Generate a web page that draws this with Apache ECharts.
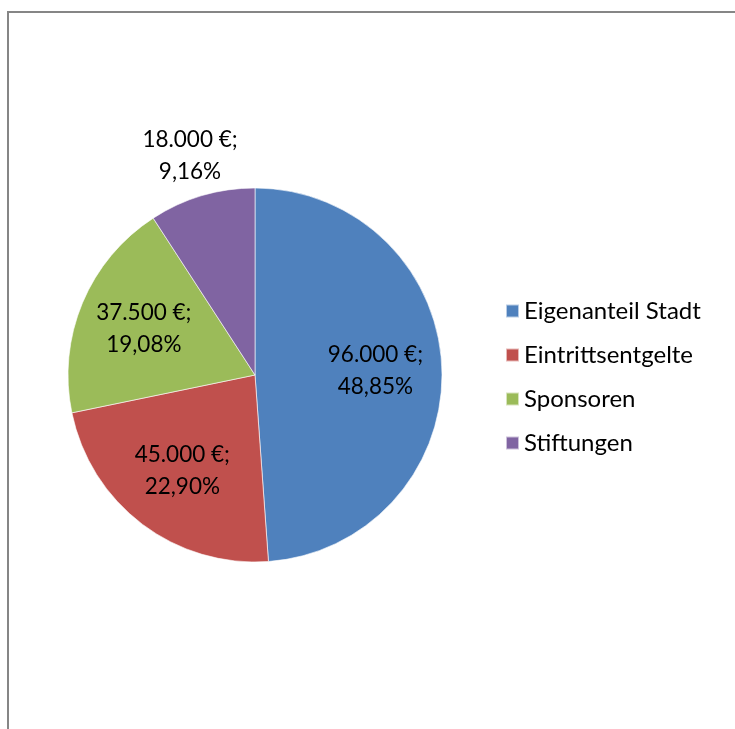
<!DOCTYPE html>
<html>
<head>
<meta charset="utf-8">
<script src="https://cdn.jsdelivr.net/npm/echarts@6/dist/echarts.min.js"></script>
<style>
html,body{margin:0;padding:0;background:#fff;}
#chart{width:735px;height:729px;}
</style>
</head>
<body>
<div id="chart"></div>
<script>
const categories = ['Eigenanteil Stadt', 'Eintrittsentgelte', 'Sponsoren', 'Stiftungen'];
const values = [96000, 45000, 37500, 18000];
const colors = ['#4F81BD', '#C0504D', '#9BBB59', '#8064A2'];

const FONT = 'Lato';
const total = values.reduce((a, b) => a + b, 0);
function fmtEuro(v) {
  return String(v).replace(/\B(?=(\d{3})+(?!\d))/g, '.') + ' €';
}
function fmtPct(v) {
  return (v / total * 100).toFixed(2).replace('.', ',') + '%';
}
const labelFmt = p => fmtEuro(p.value) + ';\n' + fmtPct(p.value);

const pieData = categories.map((c, i) => ({ name: c, value: values[i], itemStyle: { color: colors[i] } }));
const innerLabelData = categories.map((c, i) => ({ name: c, value: values[i], label: { show: i < 3 } }));
const outerLabelData = categories.map((c, i) => ({ name: c, value: values[i], label: { show: i === 3 } }));

const labelStyle = {
  position: 'inside',
  formatter: labelFmt,
  fontFamily: FONT,
  fontSize: 22.5,
  lineHeight: 32,
  color: '#000',
  align: 'center'
};

const chart = echarts.init(document.getElementById('chart'), null, { renderer: 'canvas' });
chart.setOption({
  animation: false,
  backgroundColor: '#fff',
  graphic: [{
    type: 'rect',
    shape: { x: 8, y: 12, width: 900, height: 900 },
    style: { fill: 'none', stroke: '#868686', lineWidth: 2 },
    silent: true
  }],
  legend: {
    orient: 'vertical',
    left: 505,
    top: 297,
    padding: 0,
    data: categories,
    itemWidth: 13,
    itemHeight: 13,
    itemGap: 16,
    icon: 'rect',
    textStyle: { fontFamily: FONT, fontSize: 24, lineHeight: 28, color: '#000' },
    selectedMode: false
  },
  series: [
    {
      type: 'pie',
      center: [255, 375],
      radius: [0, 187],
      startAngle: 90,
      clockwise: true,
      data: pieData,
      label: { show: false },
      labelLine: { show: false },
      itemStyle: { borderColor: 'rgba(255,255,255,0.6)', borderWidth: 1 },
      emphasis: { disabled: true },
      silent: true
    },
    {
      type: 'pie',
      center: [255, 375],
      radius: [48, 187],
      startAngle: 90,
      clockwise: true,
      data: innerLabelData,
      itemStyle: { color: 'rgba(0,0,0,0)' },
      label: labelStyle,
      labelLine: { show: false },
      emphasis: { disabled: true },
      silent: true,
      legendHoverLink: false
    },
    {
      type: 'pie',
      center: [255, 375],
      radius: [187, 265],
      startAngle: 90,
      clockwise: true,
      data: outerLabelData,
      itemStyle: { color: 'rgba(0,0,0,0)' },
      label: labelStyle,
      labelLine: { show: false },
      emphasis: { disabled: true },
      silent: true,
      legendHoverLink: false
    }
  ]
});
</script>
</body>
</html>
